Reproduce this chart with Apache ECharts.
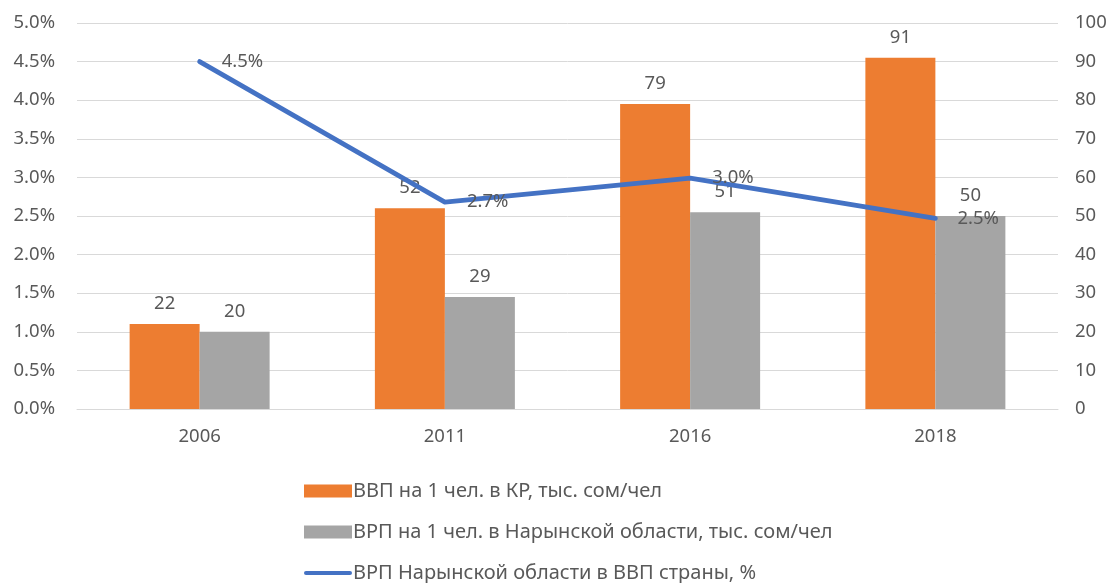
<!DOCTYPE html>
<html>
<head>
<meta charset="utf-8">
<script src="https://cdn.jsdelivr.net/npm/echarts@6/dist/echarts.min.js"></script>
<style>html,body{margin:0;padding:0;background:#fff}#c{width:1116px;height:583px}</style>
</head>
<body>
<div id="c"></div>
<script>
var categories = ['2006', '2011', '2016', '2018'];
var gdpKR = [22, 52, 79, 91];
var grpNaryn = [20, 29, 51, 50];
var shareNaryn = [4.5, 2.68, 2.99, 2.47];
var seriesNames = [
  'ВВП на 1 чел. в КР, тыс. сом/чел',
  'ВРП на 1 чел. в Нарынской области, тыс. сом/чел',
  'ВРП Нарынской области в ВВП страны, %'
];

var FONT = '"Noto Sans", sans-serif';
var TXT = '#595959';
var FS = 18.5;
var chart = echarts.init(document.getElementById('c'));
chart.setOption({
  animation: false,
  textStyle: { fontFamily: FONT },
  grid: { left: 77, right: 58, top: 23, bottom: 174, containLabel: false },
  legend: {
    orient: 'vertical',
    left: 304,
    top: 481,
    height: 200,
    padding: 0,
    itemWidth: 48,
    itemHeight: 13,
    itemGap: 21,
    textStyle: { color: TXT, fontSize: 20, fontFamily: FONT, padding: [0, 0, 0, -4] },
    data: [
      { name: seriesNames[0], icon: 'rect' },
      { name: seriesNames[1], icon: 'rect' },
      { name: seriesNames[2], icon: 'path://M2,0 L46,0 A2,2 0 0 1 46,4 L2,4 A2,2 0 0 1 2,0 Z' }
    ]
  },
  xAxis: {
    type: 'category',
    data: categories,
    axisLine: { show: true, lineStyle: { color: '#d9d9d9', width: 1 } },
    axisTick: { show: false },
    axisLabel: { color: TXT, fontSize: FS, margin: 18, fontFamily: FONT }
  },
  yAxis: [
    {
      type: 'value', min: 0, max: 5, interval: 0.5,
      axisLine: { show: false }, axisTick: { show: false },
      splitLine: { lineStyle: { color: '#d9d9d9', width: 1 } },
      axisLabel: { color: TXT, fontSize: FS, margin: 22, fontFamily: FONT,
        formatter: function (v) { return v.toFixed(1) + '%'; } }
    },
    {
      type: 'value', min: 0, max: 100, interval: 10,
      axisLine: { show: false }, axisTick: { show: false },
      splitLine: { show: false },
      axisLabel: { color: TXT, fontSize: FS, margin: 17, fontFamily: FONT }
    }
  ],
  series: [
    {
      name: seriesNames[0], type: 'bar', yAxisIndex: 1, data: gdpKR,
      barWidth: 70, barGap: '0%',
      itemStyle: { color: '#ED7D31' },
      label: { show: true, position: 'top', distance: 11, color: TXT, fontSize: FS, fontFamily: FONT }
    },
    {
      name: seriesNames[1], type: 'bar', yAxisIndex: 1, data: grpNaryn,
      barWidth: 70, barGap: '0%',
      itemStyle: { color: '#A5A5A5' },
      label: { show: true, position: 'top', distance: 11, color: TXT, fontSize: FS, fontFamily: FONT }
    },
    {
      name: seriesNames[2], type: 'line', yAxisIndex: 0, data: shareNaryn,
      showSymbol: true, symbol: 'circle', symbolSize: 0.1,
      lineStyle: { color: '#4472C4', width: 4.8, cap: 'round', join: 'round' },
      itemStyle: { color: '#4472C4' },
      label: { show: true, position: 'right', distance: 22, color: TXT, fontSize: FS, fontFamily: FONT,
        formatter: function (p) { return p.value.toFixed(1) + '%'; } },
      labelLayout: { hideOverlap: false },
      z: 5
    }
  ]
});
</script>
</body>
</html>
